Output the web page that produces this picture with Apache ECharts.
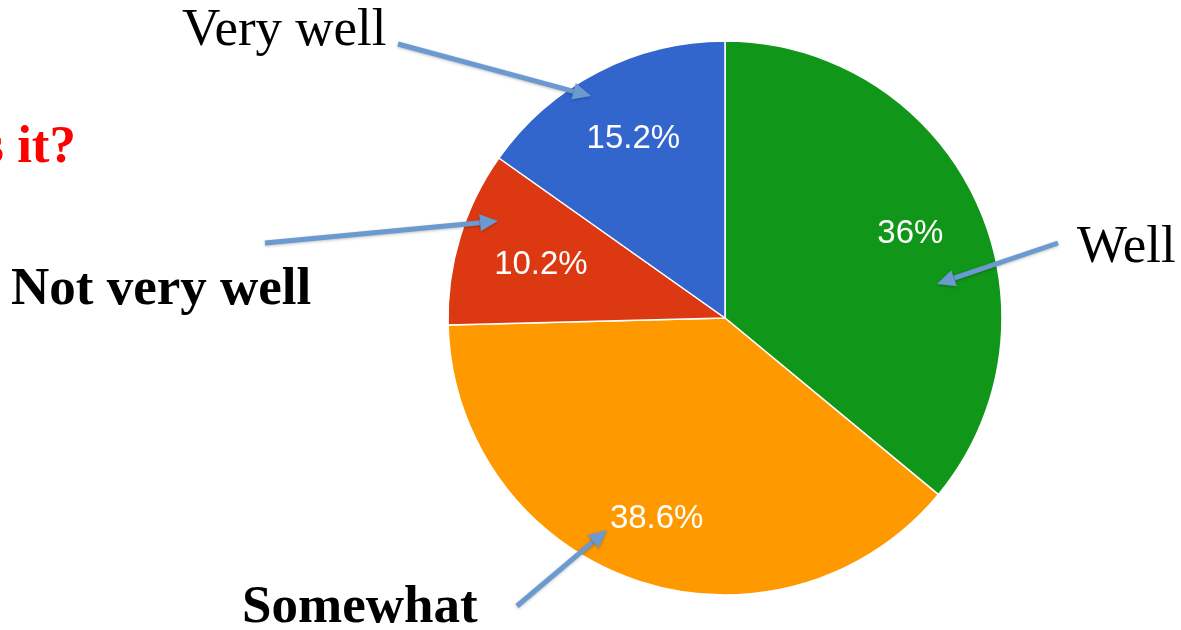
<!DOCTYPE html>
<html>
<head>
<meta charset="utf-8">
<script src="https://cdn.jsdelivr.net/npm/echarts@6/dist/echarts.min.js"></script>
<style>html,body{margin:0;padding:0;background:#fff;}#c{width:1181px;height:630px;}</style>
</head>
<body>
<div id="c"></div>
<script>
const categories = ['Well', 'Somewhat', 'Not very well', 'Very well'];
const values = [36, 38.6, 10.2, 15.2];
const colors = ['#109618', '#ff9900', '#dc3912', '#3366cc'];
const calloutLabels = ['Well', 'Somewhat', 'Not very well', 'Very well'];

const chart = echarts.init(document.getElementById('c'), null, {renderer: 'canvas'});
const data = categories.map((c, i) => ({name: c, value: values[i], itemStyle: {color: colors[i]}}));
const center = [725, 318];
const R = 277;
const labelNudge = [[-1, 4], [-1, 6], [13, 7], [3, 4]];

const arrowColor = '#6a9ad0';
function arrow(x1, y1, x2, y2) {
  const ang = Math.atan2(y2 - y1, x2 - x1);
  const hl = 18, hw = 8.5;
  const bx = x2 - hl * Math.cos(ang), by = y2 - hl * Math.sin(ang);
  const px = -Math.sin(ang), py = Math.cos(ang);
  return [
    {type: 'line', shape: {x1: x1, y1: y1, x2: bx, y2: by}, style: {stroke: arrowColor, lineWidth: 5, shadowBlur: 3, shadowColor: 'rgba(0,0,0,0.25)', shadowOffsetY: 1}, z: 10},
    {type: 'polygon', shape: {points: [[x2, y2], [bx + px * hw, by + py * hw], [bx - px * hw, by - py * hw]]}, style: {fill: arrowColor, shadowBlur: 3, shadowColor: 'rgba(0,0,0,0.25)', shadowOffsetY: 1}, z: 10}
  ];
}
function txt(s, x, y, opts) {
  return {type: 'text', x: x, y: y, z: 11, style: Object.assign({text: s, fill: '#000', font: '53px "Liberation Serif"', verticalAlign: 'middle', align: 'left'}, opts || {})};
}

const graphics = [].concat(
  arrow(398, 44, 591, 96),
  arrow(265, 243, 498, 221),
  arrow(1058, 243, 937, 284),
  arrow(517, 606, 607, 530),
  [
    txt(calloutLabels[3], 182, 31),
    txt(calloutLabels[0], 1077, 248),
    txt(calloutLabels[2], 11, 290, {font: 'bold 53px "Liberation Serif"'}),
    txt(calloutLabels[1], 242, 608, {font: 'bold 53px "Liberation Serif"'}),
    txt('s it?', 76, 148, {font: 'bold 53px "Liberation Serif"', fill: '#ff0000', align: 'right'})
  ]
);

chart.setOption({
  animation: false,
  backgroundColor: '#ffffff',
  series: [
    {
      type: 'pie', center: center, radius: [0, R], startAngle: 90, clockwise: true,
      silent: true, label: {show: false}, labelLine: {show: false},
      itemStyle: {borderColor: '#ffffff', borderWidth: 1.5},
      data: data
    },
    {
      type: 'pie', center: center, radius: [129, R], startAngle: 90, clockwise: true,
      silent: true, labelLine: {show: false},
      itemStyle: {color: 'rgba(0,0,0,0)', borderWidth: 0},
      label: {show: true, position: 'inside', color: '#ffffff', fontFamily: '"Liberation Sans", Arial, sans-serif', fontSize: 33,
        formatter: p => p.value + '%'},
      data: categories.map((c, i) => ({name: c, value: values[i], itemStyle: {color: 'rgba(0,0,0,0)'},
        label: {offset: labelNudge[i]}}))
    }
  ],
  graphic: graphics
});
</script>
</body>
</html>
